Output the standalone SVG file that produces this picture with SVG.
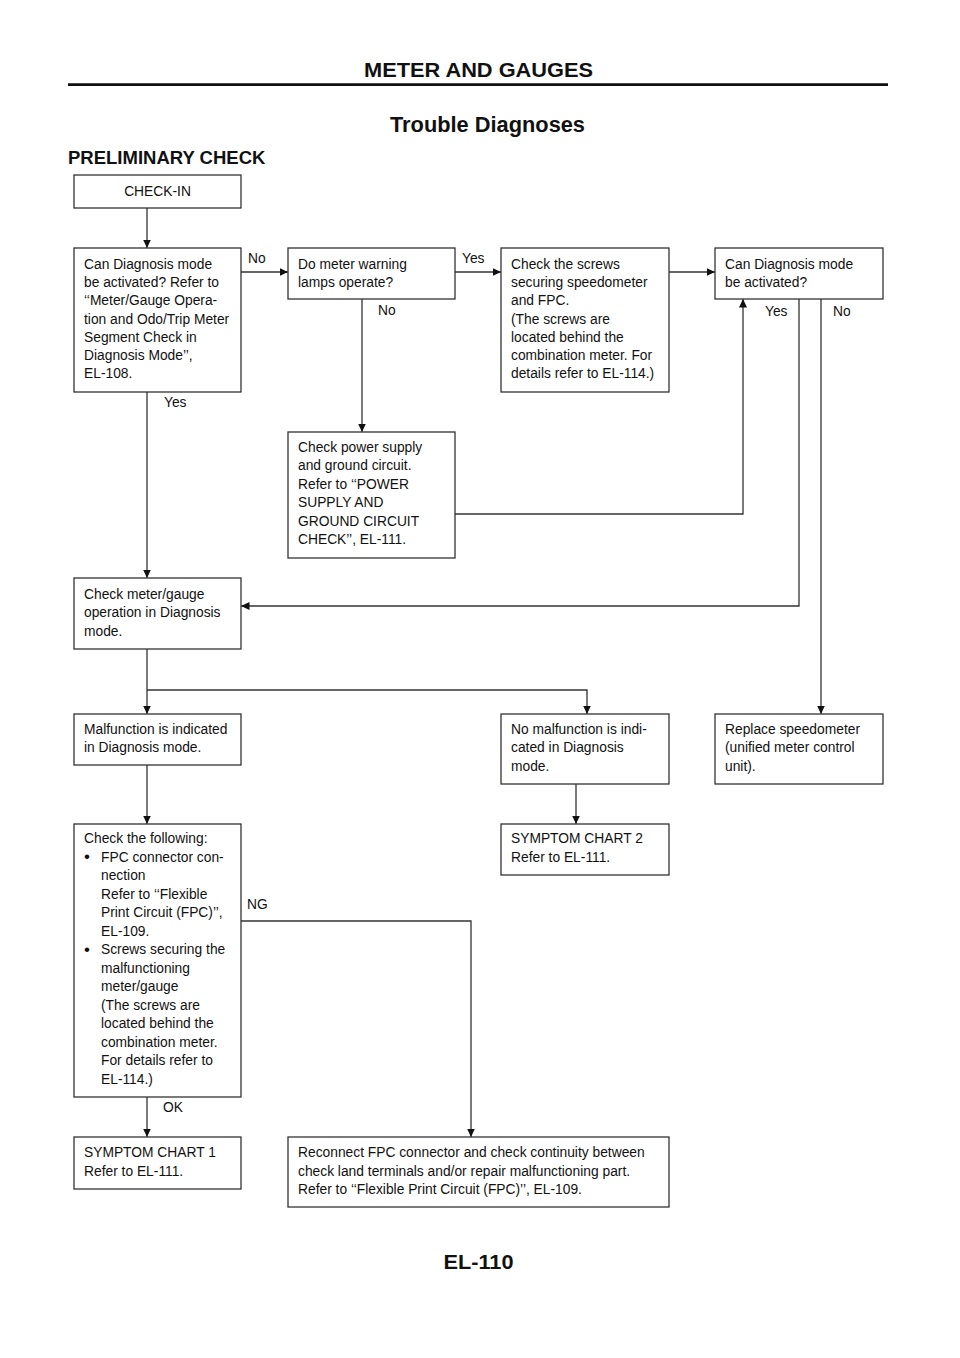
<svg xmlns="http://www.w3.org/2000/svg" width="960" height="1358" viewBox="0 0 960 1358">
<style>
.bx{fill:#fff;stroke:#333;stroke-width:1.3}
.t{font-family:"Liberation Sans",Arial,sans-serif;font-size:13.8px;fill:#111}
.h{font-family:"Liberation Sans",Arial,sans-serif;font-weight:bold;fill:#111}
.c{fill:none;stroke:#333;stroke-width:1.3}
.bul{font-size:17px}
</style>
<defs>
<marker id="arr" markerUnits="userSpaceOnUse" markerWidth="10" markerHeight="9" refX="8.5" refY="4" orient="auto">
<path d="M0,0 L8.5,4 L0,8 Z" fill="#111"/>
</marker>
</defs>
<rect width="960" height="1358" fill="#fff"/>
<g id="header">
<text class="h" x="478.5" y="77" font-size="20" text-anchor="middle" textLength="229" lengthAdjust="spacingAndGlyphs">METER AND GAUGES</text>
<line x1="68" y1="84.7" x2="888" y2="84.7" stroke="#111" stroke-width="2.8"/>
<text class="h" x="487.5" y="132" font-size="22" text-anchor="middle" textLength="195" lengthAdjust="spacingAndGlyphs">Trouble Diagnoses</text>
<text class="h" x="68" y="164" font-size="18.5">PRELIMINARY CHECK</text>
</g>
<g id="connectors">
<path class="c" d="M147,208 V248" marker-end="url(#arr)"/>
<path class="c" d="M241,272 H288" marker-end="url(#arr)"/>
<path class="c" d="M455,272 H501" marker-end="url(#arr)"/>
<path class="c" d="M669,272 H715" marker-end="url(#arr)"/>
<path class="c" d="M362,299 V432" marker-end="url(#arr)"/>
<path class="c" d="M455,514 H743 V299" marker-end="url(#arr)"/>
<path class="c" d="M799,299 V606 H241" marker-end="url(#arr)"/>
<path class="c" d="M821,299 V714" marker-end="url(#arr)"/>
<path class="c" d="M147,392 V578" marker-end="url(#arr)"/>
<path class="c" d="M147,649 V714" marker-end="url(#arr)"/>
<path class="c" d="M147,690 H587 V714" marker-end="url(#arr)"/>
<path class="c" d="M147,765 V824" marker-end="url(#arr)"/>
<path class="c" d="M576,784 V824" marker-end="url(#arr)"/>
<path class="c" d="M241,921 H471 V1137" marker-end="url(#arr)"/>
<path class="c" d="M147,1097 V1137" marker-end="url(#arr)"/>
<text class="t" x="248" y="263">No</text>
<text class="t" x="462" y="263">Yes</text>
<text class="t" x="378" y="315">No</text>
<text class="t" x="164" y="407">Yes</text>
<text class="t" x="765" y="316">Yes</text>
<text class="t" x="833" y="316">No</text>
<text class="t" x="247" y="909">NG</text>
<text class="t" x="163" y="1112">OK</text>
</g>
<g id="n-checkin">
<rect class="bx" x="74" y="175" width="167" height="33"/>
<text class="t" x="157.5" y="196" text-anchor="middle">CHECK-IN</text>
</g>
<g id="n-candiag1">
<rect class="bx" x="74" y="248" width="167" height="144"/>
<text class="t" x="84" y="269">Can Diagnosis mode</text>
<text class="t" x="84" y="287.2">be activated? Refer to</text>
<text class="t" x="84" y="305.4">‘‘Meter/Gauge Opera-</text>
<text class="t" x="84" y="323.6">tion and Odo/Trip Meter</text>
<text class="t" x="84" y="341.8">Segment Check in</text>
<text class="t" x="84" y="360">Diagnosis Mode’’,</text>
<text class="t" x="84" y="378.2">EL-108.</text>
</g>
<g id="n-warning">
<rect class="bx" x="288" y="248" width="167" height="51"/>
<text class="t" x="298" y="269">Do meter warning</text>
<text class="t" x="298" y="287.2">lamps operate?</text>
</g>
<g id="n-screws">
<rect class="bx" x="501" y="248" width="168" height="144"/>
<text class="t" x="511" y="269">Check the screws</text>
<text class="t" x="511" y="287.2">securing speedometer</text>
<text class="t" x="511" y="305.4">and FPC.</text>
<text class="t" x="511" y="323.6">(The screws are</text>
<text class="t" x="511" y="341.8">located behind the</text>
<text class="t" x="511" y="360">combination meter. For</text>
<text class="t" x="511" y="378.2">details refer to EL-114.)</text>
</g>
<g id="n-candiag2">
<rect class="bx" x="715" y="248" width="168" height="51"/>
<text class="t" x="725" y="269">Can Diagnosis mode</text>
<text class="t" x="725" y="287.2">be activated?</text>
</g>
<g id="n-power">
<rect class="bx" x="288" y="432" width="167" height="126"/>
<text class="t" x="298" y="452">Check power supply</text>
<text class="t" x="298" y="470.4">and ground circuit.</text>
<text class="t" x="298" y="488.8">Refer to ‘‘POWER</text>
<text class="t" x="298" y="507.2">SUPPLY AND</text>
<text class="t" x="298" y="525.6">GROUND CIRCUIT</text>
<text class="t" x="298" y="544">CHECK’’, EL-111.</text>
</g>
<g id="n-checkmeter">
<rect class="bx" x="74" y="578" width="167" height="71"/>
<text class="t" x="84" y="599">Check meter/gauge</text>
<text class="t" x="84" y="617.4">operation in Diagnosis</text>
<text class="t" x="84" y="635.8">mode.</text>
</g>
<g id="n-malfunction">
<rect class="bx" x="74" y="714" width="167" height="51"/>
<text class="t" x="84" y="734">Malfunction is indicated</text>
<text class="t" x="84" y="752.4">in Diagnosis mode.</text>
</g>
<g id="n-nomalfunction">
<rect class="bx" x="501" y="714" width="168" height="70"/>
<text class="t" x="511" y="734">No malfunction is indi-</text>
<text class="t" x="511" y="752.4">cated in Diagnosis</text>
<text class="t" x="511" y="770.8">mode.</text>
</g>
<g id="n-replace">
<rect class="bx" x="715" y="714" width="168" height="70"/>
<text class="t" x="725" y="734">Replace speedometer</text>
<text class="t" x="725" y="752.4">(unified meter control</text>
<text class="t" x="725" y="770.8">unit).</text>
</g>
<g id="n-checkfollowing">
<rect class="bx" x="74" y="824" width="167" height="273"/>
<text class="t" x="84" y="843">Check the following:</text>
<text class="t bul" x="84" y="862">•</text>
<text class="t" x="101" y="861.5">FPC connector con-</text>
<text class="t" x="101" y="880">nection</text>
<text class="t" x="101" y="898.5">Refer to ‘‘Flexible</text>
<text class="t" x="101" y="917">Print Circuit (FPC)’’,</text>
<text class="t" x="101" y="935.5">EL-109.</text>
<text class="t bul" x="84" y="955">•</text>
<text class="t" x="101" y="954">Screws securing the</text>
<text class="t" x="101" y="972.5">malfunctioning</text>
<text class="t" x="101" y="991">meter/gauge</text>
<text class="t" x="101" y="1009.5">(The screws are</text>
<text class="t" x="101" y="1028">located behind the</text>
<text class="t" x="101" y="1046.5">combination meter.</text>
<text class="t" x="101" y="1065">For details refer to</text>
<text class="t" x="101" y="1083.5">EL-114.)</text>
</g>
<g id="n-chart2">
<rect class="bx" x="501" y="824" width="168" height="51"/>
<text class="t" x="511" y="843">SYMPTOM CHART 2</text>
<text class="t" x="511" y="861.5">Refer to EL-111.</text>
</g>
<g id="n-chart1">
<rect class="bx" x="74" y="1137" width="167" height="52"/>
<text class="t" x="84" y="1157">SYMPTOM CHART 1</text>
<text class="t" x="84" y="1175.5">Refer to EL-111.</text>
</g>
<g id="n-reconnect">
<rect class="bx" x="288" y="1137" width="381" height="70"/>
<text class="t" x="298" y="1157">Reconnect FPC connector and check continuity between</text>
<text class="t" x="298" y="1175.5">check land terminals and/or repair malfunctioning part.</text>
<text class="t" x="298" y="1194">Refer to ‘‘Flexible Print Circuit (FPC)’’, EL-109.</text>
</g>
<g id="footer">
<text class="h" x="478.5" y="1269" font-size="20" text-anchor="middle" textLength="70" lengthAdjust="spacingAndGlyphs">EL-110</text>
</g>
</svg>
